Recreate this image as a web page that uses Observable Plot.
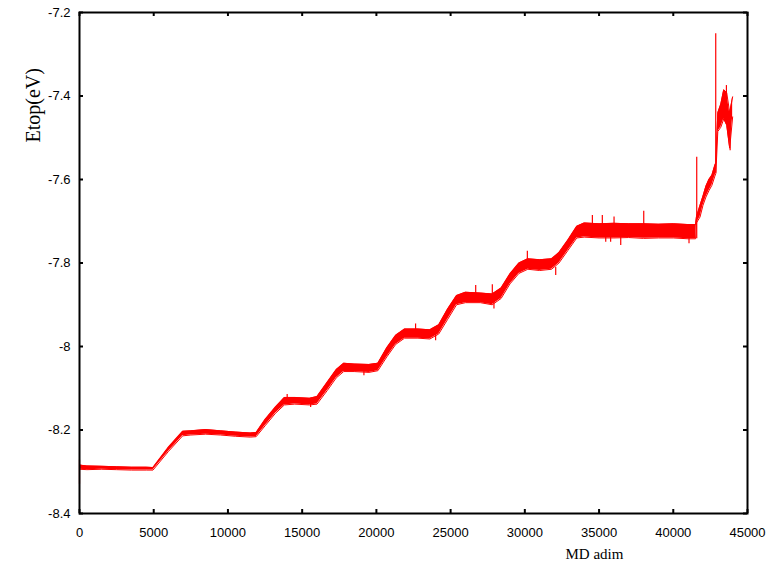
<!DOCTYPE html>
<html>
<head>
<meta charset="utf-8">
<script src="https://cdn.jsdelivr.net/npm/d3@7"></script>
<script src="https://cdn.jsdelivr.net/npm/@observablehq/plot@0.6"></script>
<style>
  html, body { margin: 0; padding: 0; background: #fff; }
  #chart { width: 766px; height: 568px; }
</style>
</head>
<body>
<div id="chart"></div>
<script>
// ---- data ----
const xTicks = [0, 5000, 10000, 15000, 20000, 25000, 30000, 35000, 40000, 45000];
const yTicks = [-8.4, -8.2, -8, -7.8, -7.6, -7.4, -7.2];

// noisy band: MD step, lower edge, upper edge of Etop (eV)
const stepX = [0, 500, 1500, 2500, 3500, 4500, 4950, 6000, 6950, 7500, 8500, 9500, 10500, 11500, 11900,
  12500, 13200, 13800, 14500, 15500, 16000, 16700, 17300, 17800, 18500, 19500, 20100,
  20700, 21300, 21900, 22800, 23600, 24200, 24800, 25400, 26000, 27000, 27800, 28400,
  29000, 29600, 30200, 31000, 31800, 32300, 32900, 33500, 34000, 35000, 36000, 37000,
  38000, 39000, 40000, 41000, 41500, 41560, 41800, 42000, 42200, 42400, 42600, 42800,
  42870, 43000, 43200, 43400, 43600, 43800, 44000];
const etopLow = [-8.294, -8.295, -8.294, -8.295, -8.296, -8.296, -8.296, -8.251, -8.214, -8.212, -8.210, -8.212, -8.215, -8.217, -8.216,
  -8.190, -8.160, -8.140, -8.138, -8.140, -8.138, -8.105, -8.075, -8.060, -8.060, -8.062, -8.058,
  -8.025, -7.995, -7.980, -7.980, -7.982, -7.970, -7.935, -7.900, -7.895, -7.895, -7.900, -7.885,
  -7.850, -7.825, -7.815, -7.818, -7.815, -7.800, -7.770, -7.740, -7.738, -7.740, -7.740, -7.739,
  -7.741, -7.740, -7.740, -7.742, -7.742, -7.704, -7.690, -7.662, -7.642, -7.627, -7.614, -7.592,
  -7.585, -7.485, -7.475, -7.455, -7.470, -7.525, -7.450];
const etopHigh = [-8.284, -8.286, -8.287, -8.288, -8.289, -8.289, -8.290, -8.241, -8.203, -8.202, -8.199, -8.202, -8.205, -8.207, -8.206,
  -8.175, -8.145, -8.122, -8.122, -8.124, -8.120, -8.085, -8.055, -8.040, -8.042, -8.043, -8.040,
  -8.003, -7.973, -7.958, -7.958, -7.960, -7.948, -7.910, -7.878, -7.870, -7.872, -7.874, -7.860,
  -7.826, -7.800, -7.790, -7.792, -7.790, -7.775, -7.745, -7.712, -7.704, -7.706, -7.705, -7.706,
  -7.706, -7.707, -7.706, -7.708, -7.708, -7.690, -7.662, -7.640, -7.616, -7.600, -7.590, -7.566,
  -7.560, -7.440, -7.420, -7.385, -7.392, -7.440, -7.402];

// isolated spikes visible in the trace: step, bottom, top
const spikeX = [0, 13990, 15570, 19160, 22640, 23990, 26690, 27810, 27920, 30170, 32080, 34550, 35220, 35450, 35780, 36010, 36460, 38010, 41060, 41580, 42860, 43580, 43830];
const spikeLow = [-8.330, -8.130, -8.146, -8.070, -7.965, -7.986, -7.880, -7.880, -7.910, -7.800, -7.830, -7.715, -7.715, -7.750, -7.750, -7.715, -7.758, -7.710, -7.754, -7.742, -7.585, -7.450, -7.531];
const spikeHigh = [-8.272, -8.115, -8.130, -8.050, -7.946, -7.970, -7.854, -7.852, -7.890, -7.772, -7.810, -7.686, -7.686, -7.735, -7.735, -7.690, -7.735, -7.676, -7.735, -7.547, -7.251, -7.375, -7.440];

// ---- tables built from the arrays ----
const band = stepX.map((x, i) => ({x, lo: etopLow[i], hi: etopHigh[i]}));
const spikes = spikeX.map((x, i) => ({x, lo: spikeLow[i], hi: spikeHigh[i]}));

const W = 766, H = 568;
const mL = 79, mR = 19, mT = 12, mB = 55;
const pw = W - mL - mR, ph = H - mT - mB;
const tickLen = 4;
const fmt = d => String(d);
const sans = "'Liberation Sans', Arial, sans-serif";
const serif = "'Liberation Serif', 'Times New Roman', serif";

const chart = Plot.plot({
  width: W,
  height: H,
  marginLeft: mL,
  marginRight: mR,
  marginTop: mT,
  marginBottom: mB,
  style: {fontFamily: sans, fontSize: "13px", background: "#fff", color: "#000"},
  x: {domain: [0, 45000]},
  y: {domain: [-8.4, -7.2]},
  marks: [
    Plot.areaY(band, {x: "x", y1: "lo", y2: "hi", fill: "#ff0000", curve: "linear"}),
    Plot.line(band, {x: "x", y: "lo", stroke: "#ff0000", strokeWidth: 1}),
    Plot.line(band, {x: "x", y: "hi", stroke: "#ff0000", strokeWidth: 1}),
    Plot.ruleX(spikes, {x: "x", y1: "lo", y2: "hi", stroke: "#ff0000", strokeWidth: 1.2}),
    // inward ticks on all four sides
    Plot.tickX(xTicks, {x: d => d, insetTop: ph - tickLen, stroke: "#000", strokeWidth: 2}),
    Plot.tickX(xTicks, {x: d => d, insetBottom: ph - tickLen, stroke: "#000", strokeWidth: 2}),
    Plot.tickY(yTicks, {y: d => d, insetRight: pw - tickLen, stroke: "#000", strokeWidth: 2}),
    Plot.tickY(yTicks, {y: d => d, insetLeft: pw - tickLen, stroke: "#000", strokeWidth: 2}),
    Plot.frame({stroke: "#000", strokeWidth: 2}),
    Plot.axisX(xTicks, {tickSize: 0, tickPadding: 14, tickFormat: fmt, fontSize: 13, label: null}),
    Plot.axisY(yTicks, {tickSize: 0, tickPadding: 9, tickFormat: fmt, fontSize: 13, label: null}),
    Plot.text(["MD adim"], {frameAnchor: "bottom-left", dx: 486, dy: 45, fontFamily: serif, fontSize: 15, fill: "#000"}),
    Plot.text(["Etop(eV)"], {frameAnchor: "top-left", dx: -54, dy: 130, rotate: -90, fontFamily: serif, fontSize: 20, fill: "#000"})
  ]
});
document.getElementById("chart").appendChild(chart);
</script>
</body>
</html>
